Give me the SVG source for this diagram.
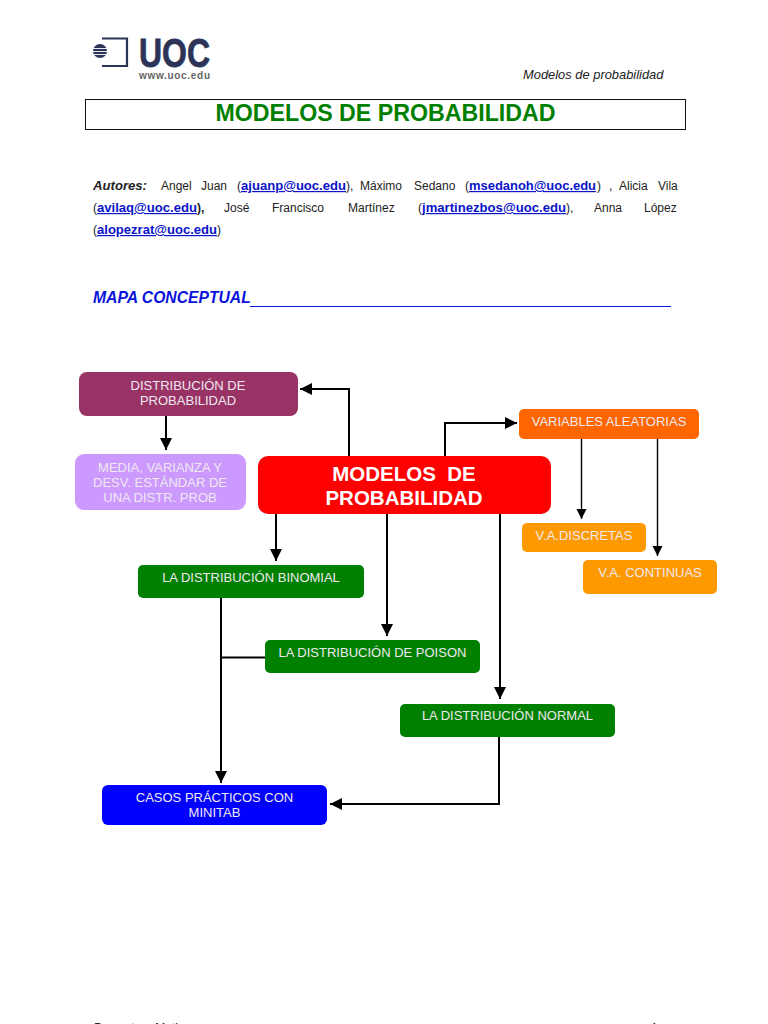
<svg xmlns="http://www.w3.org/2000/svg" width="768" height="1024" viewBox="0 0 768 1024">
<style>
text{font-family:"Liberation Sans",Arial,sans-serif}
.b{font-size:12px;fill:#222}
.m{font-size:12px;font-weight:bold;fill:#0a14c8;text-decoration:underline}
.l{font-size:13px;text-anchor:middle;fill:#efe9ef}
.w{stroke:#000;stroke-width:2;fill:none;marker-end:url(#a)}
.t{stroke:#000;stroke-width:1.4;fill:none;marker-end:url(#a2)}
</style>
<defs>
<marker id="a" markerUnits="userSpaceOnUse" markerWidth="13" markerHeight="13" refX="12" refY="6.5" orient="auto"><path d="M0 0.5L12 6.5L0 12.5Z" fill="#000"/></marker>
<marker id="a2" markerUnits="userSpaceOnUse" markerWidth="11" markerHeight="11" refX="10" refY="5.5" orient="auto"><path d="M0 0.5L10 5.5L0 10.5Z" fill="#000"/></marker>
</defs>
<rect width="768" height="1024" fill="#fff"/>
<g id="logo">
<circle cx="100" cy="51" r="7" fill="#2b3457"/>
<path d="M93 48.5H107M93 51.5H107M94 54.5H106" stroke="#fff" stroke-width="0.9"/>
<path d="M102 38.500H127V66H102" fill="none" stroke="#2b3457" stroke-width="2.2"/>
<text x="139" y="67" font-size="40" font-weight="bold" fill="#2b3457" stroke="#2b3457" stroke-width="0.8" textLength="71" lengthAdjust="spacingAndGlyphs" style="font-family:'Liberation Sans Narrow','Liberation Sans',sans-serif">UOC</text>
<text x="139" y="79" font-size="10" font-weight="bold" fill="#666" textLength="71">www.uoc.edu</text>
</g>
<text x="523" y="79" font-size="12.900" font-style="italic" fill="#222">Modelos de probabilidad</text>
<g id="title">
<rect x="85.5" y="99.5" width="600" height="30" fill="#fff" stroke="#111" stroke-width="1"/>
<text x="385.5" y="121" font-size="23.2" font-weight="bold" fill="#008000" text-anchor="middle">MODELOS DE PROBABILIDAD</text>
</g>
<g id="autores">
<text x="93" y="190" class="b" font-weight="bold" font-style="italic" fill="#000" textLength="54" lengthAdjust="spacingAndGlyphs">Autores:</text>
<text x="161" y="190" class="b">Angel</text><text x="201" y="190" class="b">Juan</text><text x="237" y="190" class="b">(</text>
<text x="241" y="190" class="m" textLength="105" lengthAdjust="spacingAndGlyphs">ajuanp@uoc.edu</text><text x="346" y="190" class="b">),</text>
<text x="360" y="190" class="b">Máximo</text><text x="414" y="190" class="b">Sedano</text><text x="465" y="190" class="b">(</text>
<text x="469" y="190" class="m" textLength="127" lengthAdjust="spacingAndGlyphs">msedanoh@uoc.edu</text><text x="597" y="190" class="b">)</text><text x="609" y="190" class="b">,</text>
<text x="619" y="190" class="b">Alicia</text><text x="658" y="190" class="b">Vila</text>
<text x="93" y="212" class="b">(</text><text x="97" y="212" class="m" textLength="100" lengthAdjust="spacingAndGlyphs">avilaq@uoc.edu</text>
<text x="197" y="212" class="b" font-weight="bold" fill="#000">),</text>
<text x="224" y="212" class="b">José</text><text x="272" y="212" class="b">Francisco</text><text x="348" y="212" class="b">Martínez</text>
<text x="418" y="212" class="b">(</text><text x="422" y="212" class="m" textLength="144" lengthAdjust="spacingAndGlyphs">jmartinezbos@uoc.edu</text><text x="566" y="212" class="b">),</text>
<text x="594" y="212" class="b">Anna</text><text x="644" y="212" class="b">López</text>
<text x="93" y="234" class="b">(</text><text x="97" y="234" class="m" textLength="120" lengthAdjust="spacingAndGlyphs">alopezrat@uoc.edu</text><text x="217" y="234" class="b">)</text>
</g>
<g id="mapa">
<text x="93" y="303" font-size="15.7" font-weight="bold" font-style="italic" fill="#0a14dc">MAPA CONCEPTUAL</text>
<line x1="250" y1="306.500" x2="671" y2="306.500" stroke="#0a14dc" stroke-width="1"/>
</g>
<g id="connectors">
<path class="w" d="M349 456V389H300"/>
<path class="w" d="M166 416V450"/>
<path class="w" d="M276 514V561"/>
<path class="w" d="M387 514V636"/>
<path class="w" d="M500 514V699"/>
<path class="w" d="M445 456V423H517"/>
<path class="t" d="M581.500 439V519"/>
<path class="t" d="M657.500 439V556"/>
<path class="w" d="M221 598V783"/>
<path d="M265 657.500H221" stroke="#000" stroke-width="2" fill="none"/>
<path class="w" d="M499 737V804H330"/>
</g>
<g id="n-distribucion"><rect x="79" y="372" width="219" height="44" rx="8" fill="#993366"/><text class="l" x="188" y="390">DISTRIBUCIÓN DE</text><text class="l" x="188" y="405">PROBABILIDAD</text></g>
<g id="n-media"><rect x="75" y="454" width="171" height="56" rx="9" fill="#cc99ff"/><text class="l" x="160" y="472">MEDIA, VARIANZA Y</text><text class="l" x="160" y="487">DESV. ESTÁNDAR DE</text><text class="l" x="160" y="502">UNA DISTR. PROB</text></g>
<g id="n-modelos"><rect x="258" y="456" width="293" height="58" rx="10" fill="#ff0000"/><text x="404" y="480.500" font-size="20.500" font-weight="bold" fill="#fff" text-anchor="middle" xml:space="preserve">MODELOS  DE</text><text x="404" y="504.500" font-size="20.500" font-weight="bold" fill="#fff" text-anchor="middle">PROBABILIDAD</text></g>
<g id="n-binomial"><rect x="138" y="565" width="226" height="33" rx="5" fill="#008000"/><text class="l" x="251" y="582">LA DISTRIBUCIÓN BINOMIAL</text></g>
<g id="n-poison"><rect x="265" y="640" width="215" height="33" rx="5" fill="#008000"/><text class="l" x="372.500" y="657">LA DISTRIBUCIÓN DE POISON</text></g>
<g id="n-normal"><rect x="400" y="704" width="215" height="33" rx="5" fill="#008000"/><text class="l" x="507.500" y="720">LA DISTRIBUCIÓN NORMAL</text></g>
<g id="n-casos"><rect x="102" y="785" width="225" height="40" rx="6" fill="#0000ff"/><text class="l" x="214.500" y="802">CASOS PRÁCTICOS CON</text><text class="l" x="214.500" y="817">MINITAB</text></g>
<g id="n-variables"><rect x="519" y="409" width="180" height="30" rx="5" fill="#ff6600"/><text class="l" x="609" y="426">VARIABLES ALEATORIAS</text></g>
<g id="n-discretas"><rect x="522" y="523" width="124" height="29" rx="5" fill="#ff9900"/><text class="l" x="584" y="540">V.A.DISCRETAS</text></g>
<g id="n-continuas"><rect x="583" y="560" width="134" height="34" rx="5" fill="#ff9900"/><text class="l" x="650" y="577">V.A. CONTINUAS</text></g>
<g id="footer"><text x="94" y="1032" class="b">Proyecto e-Math</text><text x="651" y="1032" class="b">1</text></g>
</svg>
